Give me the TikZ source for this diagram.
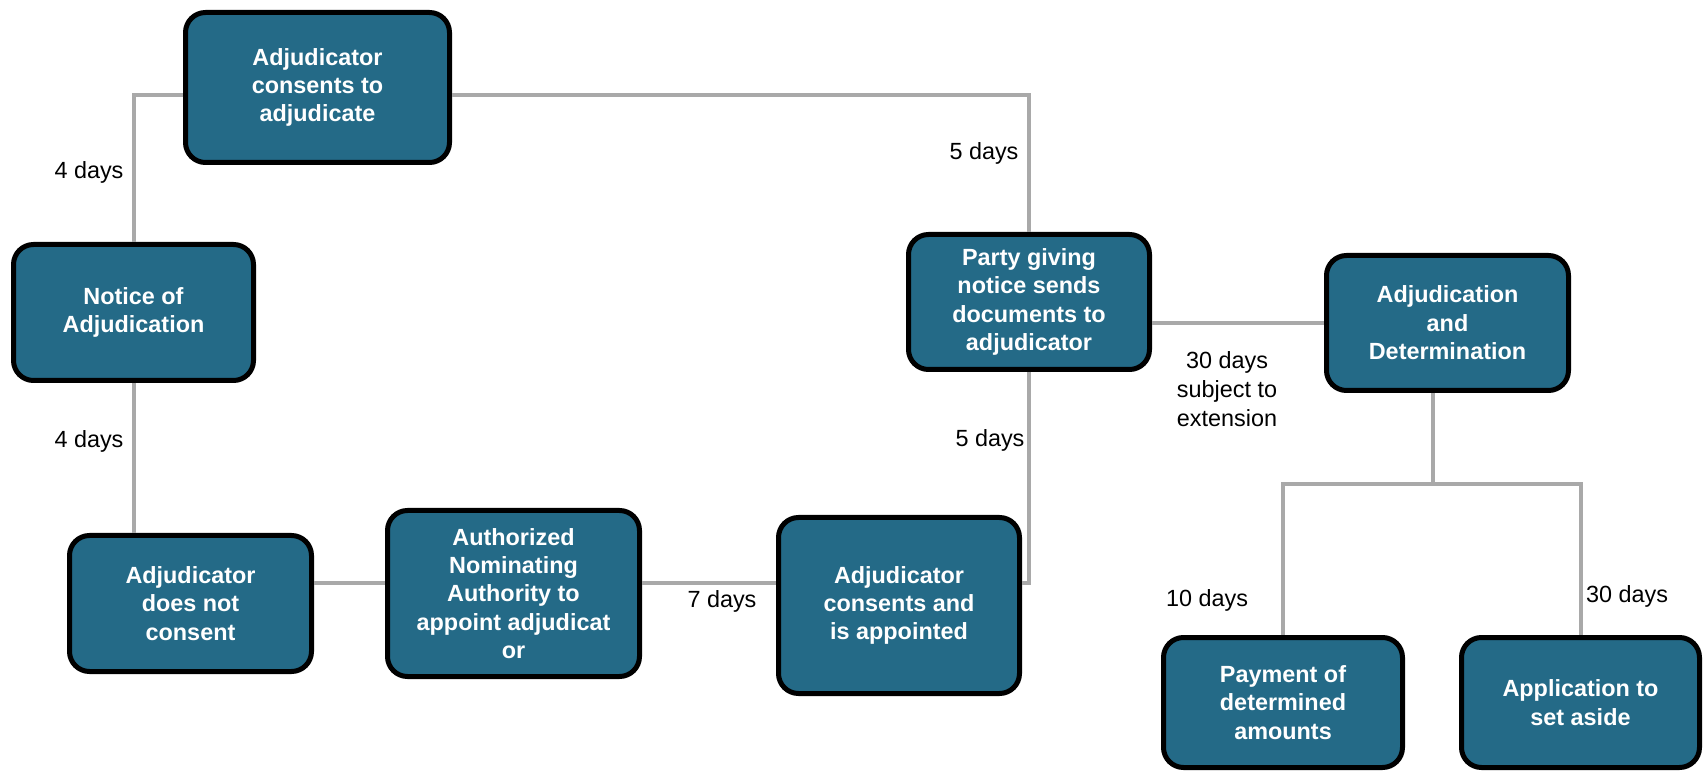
\documentclass[tikz,border=0pt]{standalone}
\usepackage{fontspec}
\setmainfont{Liberation Sans}
\usepackage{tikz}
\definecolor{boxblue}{HTML}{246A87}
\definecolor{linkgray}{HTML}{A9A9A9}

\begin{document}
\begin{tikzpicture}[x=0.5pt,y=-0.5pt,
  stage/.style={draw=black, line width=2.5pt, fill=boxblue, rounded corners=10pt,
    text=white, font=\fontsize{11.7}{14.2}\selectfont\bfseries, align=center,
    minimum width=120.5pt, minimum height=67.5pt, inner sep=2pt},
  link/.style={draw=linkgray, line width=2pt},
  days/.style={font=\fontsize{11.7}{14.4}\selectfont, align=center, inner sep=0pt}]
  \useasboundingbox (0,0) rectangle (1705,775);

  % stages
  \node[stage, minimum width=132pt, minimum height=75pt] (consent) at (317.5,87.5) {Adjudicator\\consents to\\adjudicate};
  \node[stage, minimum width=120pt, minimum height=68pt] (notice) at (133.5,312.5) {Notice of\\Adjudication};
  \node[stage, minimum width=121pt, minimum height=68pt] (refuse) at (190.5,603.5) {Adjudicator\\does not\\consent};
  \node[stage, minimum width=126pt, minimum height=83pt] (nominate) at (513.5,593.5) {Authorized\\Nominating\\Authority to\\appoint adjudicat\\or};
  \node[stage, minimum height=88pt] (appointed) at (899,605.5) {Adjudicator\\consents and\\is appointed};
  \node[stage] (documents) at (1029,302) {Party giving\\notice sends\\documents to\\adjudicator};
  \node[stage, minimum width=121pt] (determine) at (1447.5,323) {Adjudication\\and\\Determination};
  \node[stage, minimum width=119.5pt, minimum height=65pt] (payment) at (1283,702.5) {Payment of\\determined\\amounts};
  \node[stage, minimum width=119pt, minimum height=65pt] (aside) at (1580.5,702.5) {Application to\\set aside};

  % helper points
  \coordinate (row) at (0,583);
  \coordinate (fork) at (1433,484);

  % connectors
  \draw[link] ([yshift=-4pt]consent.west) -| (notice.north);
  \draw[link] ([yshift=-4pt]consent.east) -| (documents.north);
  \draw[link] (notice.south) -- (notice.south |- refuse.north);
  \draw[link] (refuse.east |- row) -- (nominate.west |- row);
  \draw[link] (nominate.east |- row) -- (appointed.west |- row);
  \draw[link] (appointed.east |- row) -- (documents.south |- row) -- (documents.south);
  \draw[link] (documents.east |- determine.west) -- (determine.west);
  \draw[link] (determine.south -| fork) -- (fork);
  \draw[link] (payment.north) |- (fork) -| (aside.north);

  % time limits
  \node[days] (d1) at (89,172) {4 days};
  \node[days] (d2) at (89,441) {4 days};
  \node[days] (d3) at (984,153) {5 days};
  \node[days] (d4) at (990,440) {5 days};
  \node[days] (d5) at (722,601) {7 days};
  \node[days] (d6) at (1227,389) {30 days\\subject to\\extension};
  \node[days] (d7) at (1207,600) {10 days};
  \node[days] (d8) at (1627,596) {30 days};
\end{tikzpicture}
\end{document}
